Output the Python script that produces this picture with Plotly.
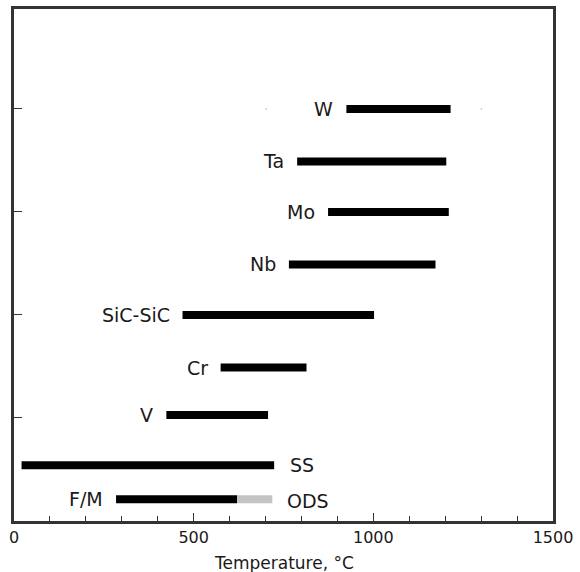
import plotly.graph_objects as go

# Data
materials = ["W", "Ta", "Mo", "Nb", "SiC-SiC", "Cr", "V", "SS", "F/M"]
t_start = [925, 788, 874, 765, 469, 575, 424, 21, 284]
t_end = [1215, 1203, 1210, 1173, 1002, 814, 707, 724, 621]
row_pos = [4.0, 3.49, 3.0, 2.49, 2.0, 1.49, 1.03, 0.54, 0.21]
label_side = ["left", "left", "left", "left", "left", "left", "left", "right", "left"]

ods_label = "ODS"
ods_start = [621]
ods_end = [719]
ods_pos = [0.21]

dot_x = [702, 1301]
dot_y = [4.0, 4.0]

x_tickvals = [0, 500, 1000, 1500]
x_ticktext = ["0", "500", "1000", "1500"]
y_tickvals = [1, 2, 3, 4]
x_title = "Temperature, °C"

FONT = "DejaVu Sans"
AX = "#333333"
TXT = "#1a1a1a"

fig = go.Figure()

fig.add_trace(go.Scatter(x=dot_x, y=dot_y, mode="markers",
                         marker=dict(size=2, color="#d0d0d0"),
                         hoverinfo="skip", showlegend=False))

for name, a, b, p in zip(materials, t_start, t_end, row_pos):
    fig.add_trace(go.Scatter(x=[a, b], y=[p, p], mode="lines",
                             line=dict(color="black", width=8),
                             name=name, showlegend=False))

for a, b, p in zip(ods_start, ods_end, ods_pos):
    fig.add_trace(go.Scatter(x=[a, b], y=[p, p], mode="lines",
                             line=dict(color="#c4c4c4", width=8),
                             name=ods_label, showlegend=False))

for name, a, b, p, side in zip(materials, t_start, t_end, row_pos, label_side):
    if side == "left":
        fig.add_annotation(x=a, y=p, text=name, showarrow=False,
                           xanchor="right", yanchor="middle", xshift=-11,
                           font=dict(family=FONT, size=19, color=TXT))
    else:
        fig.add_annotation(x=b, y=p, text=name, showarrow=False,
                           xanchor="left", yanchor="middle", xshift=14,
                           font=dict(family=FONT, size=19, color=TXT))

for a, b, p in zip(ods_start, ods_end, ods_pos):
    fig.add_annotation(x=b, y=p, text=ods_label, showarrow=False,
                       xanchor="left", yanchor="middle", xshift=13, yshift=-2,
                       font=dict(family=FONT, size=19, color=TXT))

fig.add_annotation(x=0.5, y=0, xref="paper", yref="paper", text=x_title,
                   showarrow=False, xanchor="center", yanchor="middle",
                   yshift=-42, font=dict(family=FONT, size=17, color=TXT))

fig.update_layout(
    width=580, height=572,
    margin=dict(l=14, r=27, t=9, b=51),
    paper_bgcolor="white", plot_bgcolor="white",
    font=dict(family=FONT, size=16, color=TXT),
    xaxis=dict(range=[0, 1500], tickvals=x_tickvals, ticktext=x_ticktext,
               ticks="inside", ticklen=8, tickwidth=1, tickcolor=AX,
               showline=True, linecolor=AX, linewidth=3, mirror=True,
               showgrid=False, zeroline=False, automargin=False,
               minor=dict(dtick=100, ticks="inside", ticklen=5, tickwidth=1,
                          tickcolor=AX, showgrid=False),
               tickfont=dict(family=FONT, size=16, color=TXT)),
    yaxis=dict(range=[0, 4.97], tickvals=y_tickvals, showticklabels=False,
               ticks="inside", ticklen=8, tickwidth=1, tickcolor=AX,
               showline=True, linecolor=AX, linewidth=3, mirror=True,
               showgrid=False, zeroline=False, automargin=False),
)

fig.write_html("out.html")
